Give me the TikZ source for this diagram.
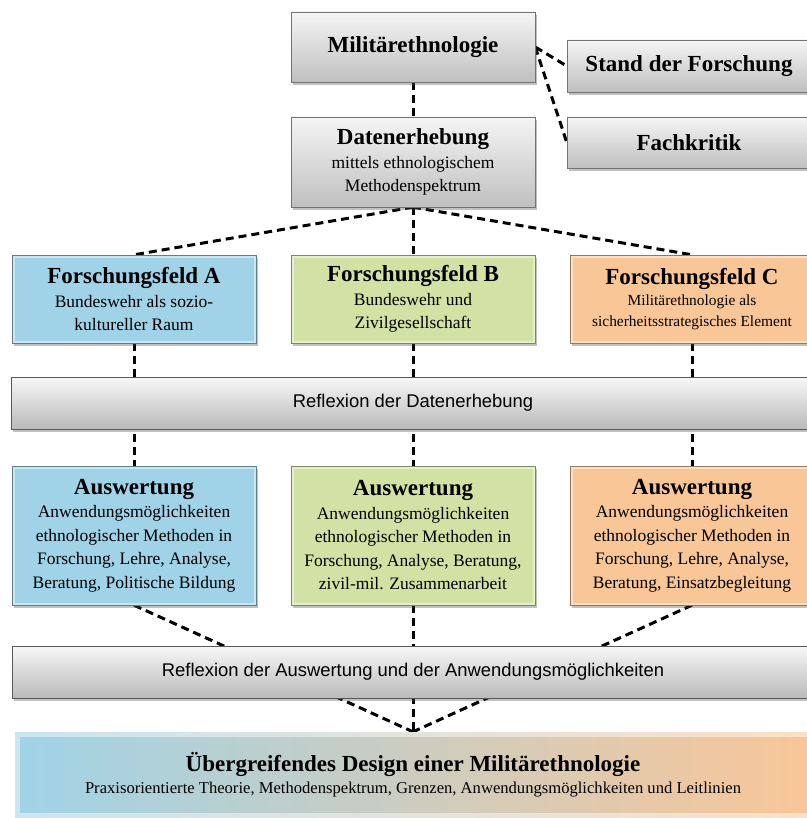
\documentclass[tikz,border=0pt]{standalone}
\usepackage{fontspec}
\setmainfont{Liberation Serif}
\setsansfont{Liberation Sans}
\usetikzlibrary{shadows,backgrounds}

\definecolor{feldblau}{HTML}{A0D3E7}
\definecolor{feldgruen}{HTML}{D2E2A4}
\definecolor{feldorange}{HTML}{F9C698}

\newcommand{\feldtitel}[1]{{\fontsize{23}{25}\selectfont\bfseries #1}}

\begin{document}
\begin{tikzpicture}[
    x=1pt, y=-1pt,
    schatten/.style={drop shadow={shadow xshift=2pt, shadow yshift=-3pt, opacity=.35, fill=black!70}},
    bevel/.style={path picture={\draw[white, opacity=.45, line width=#1] (path picture bounding box.north west) rectangle (path picture bounding box.south east);}},
    grau/.style={schatten, rectangle, draw=black!55, top color=black!4, bottom color=black!25, minimum width=244pt, align=center, inner sep=2pt, font=\fontsize{17.5}{23.5}\selectfont},
    feld/.style={schatten, bevel=5pt, rectangle, draw=#1!60!black, fill=#1, minimum width=244pt, align=center, inner sep=2pt, font=\fontsize{17.5}{23.5}\selectfont},
    balken/.style={schatten, rectangle, draw=black!65, top color=black!3, bottom color=black!27, minimum height=52pt, font=\sffamily\fontsize{18.4}{22}\selectfont},
    verbindung/.style={draw=black, line width=3pt, dash pattern=on 8pt off 5pt}
]
\useasboundingbox (0,0) rectangle (806,818);

% Kopf
\node[grau, minimum height=70pt] (mil) at (413,47) {\feldtitel{Militärethnologie}};
\node[grau, minimum height=52pt] (stand) at (689,66) {\feldtitel{Stand der Forschung}};
\node[grau, minimum height=51pt] (fach) at (689,142.5) {\feldtitel{Fachkritik}};
\node[grau, minimum height=90pt] (daten) at (413,162) {\feldtitel{Datenerhebung}\\mittels ethnologischem\\Methodenspektrum};

% Forschungsfelder
\node[feld=feldblau, minimum height=88pt] (feldA) at (134,299) {\feldtitel{Forschungsfeld A}\\Bundeswehr als sozio-\\kultureller Raum};
\node[feld=feldgruen, minimum height=88pt] (feldB) at (413,299) {\feldtitel{Forschungsfeld B}\\Bundeswehr und\\Zivilgesellschaft};
\node[feld=feldorange, minimum height=88pt, font=\fontsize{15.4}{21}\selectfont] (feldC) at (692,299) {\feldtitel{Forschungsfeld C}\\Militärethnologie als\\sicherheitsstrategisches Element};

\node[balken, minimum width=804pt] (refl1) at (413,403) {Reflexion der Datenerhebung};

% Auswertung
\node[feld=feldblau, minimum height=139pt] (ausA) at (134,535.5) {\feldtitel{Auswertung}\\Anwendungsmöglichkeiten\\ethnologischer Methoden in\\Forschung, Lehre, Analyse,\\Beratung, Politische Bildung};
\node[feld=feldgruen, minimum height=139pt] (ausB) at (413,535.5) {\feldtitel{Auswertung}\\Anwendungsmöglichkeiten\\ethnologischer Methoden in\\Forschung, Analyse, Beratung,\\zivil-mil. Zusammenarbeit};
\node[feld=feldorange, minimum height=139pt] (ausC) at (692,535.5) {\feldtitel{Auswertung}\\Anwendungsmöglichkeiten\\ethnologischer Methoden in\\Forschung, Lehre, Analyse,\\Beratung, Einsatzbegleitung};

\node[balken, minimum width=802pt] (refl2) at (413,672) {Reflexion der Auswertung und der Anwendungsmöglichkeiten};

% Design
\node[schatten, bevel=9pt, rectangle, draw=none, left color=feldblau, middle color=feldgruen!90!yellow, right color=feldorange, minimum width=796pt, minimum height=85pt, align=center, font=\fontsize{16.6}{22}\selectfont] (design) at (413,774.5) {\feldtitel{Übergreifendes Design einer Militärethnologie}\\Praxisorientierte Theorie, Methodenspektrum, Grenzen, Anwendungsmöglichkeiten und Leitlinien};

\begin{pgfonlayer}{background}
\draw[verbindung] (mil.south) -- (daten.north);
\draw[verbindung] (mil.east) -- (stand.west);
\draw[verbindung] (mil.east) -- (fach.west);
\draw[verbindung] (daten.south) -- (feldA.north);
\draw[verbindung] (daten.south) -- (feldB.north);
\draw[verbindung] (daten.south) -- (feldC.north);
\draw[verbindung] (feldA.south) -- (ausA.north);
\draw[verbindung] (feldB.south) -- (ausB.north);
\draw[verbindung] (feldC.south) -- (ausC.north);
\draw[verbindung] (ausA.south) -- (design.north);
\draw[verbindung] (ausB.south) -- (design.north);
\draw[verbindung] (ausC.south) -- (design.north);
\end{pgfonlayer}
\end{tikzpicture}
\end{document}
